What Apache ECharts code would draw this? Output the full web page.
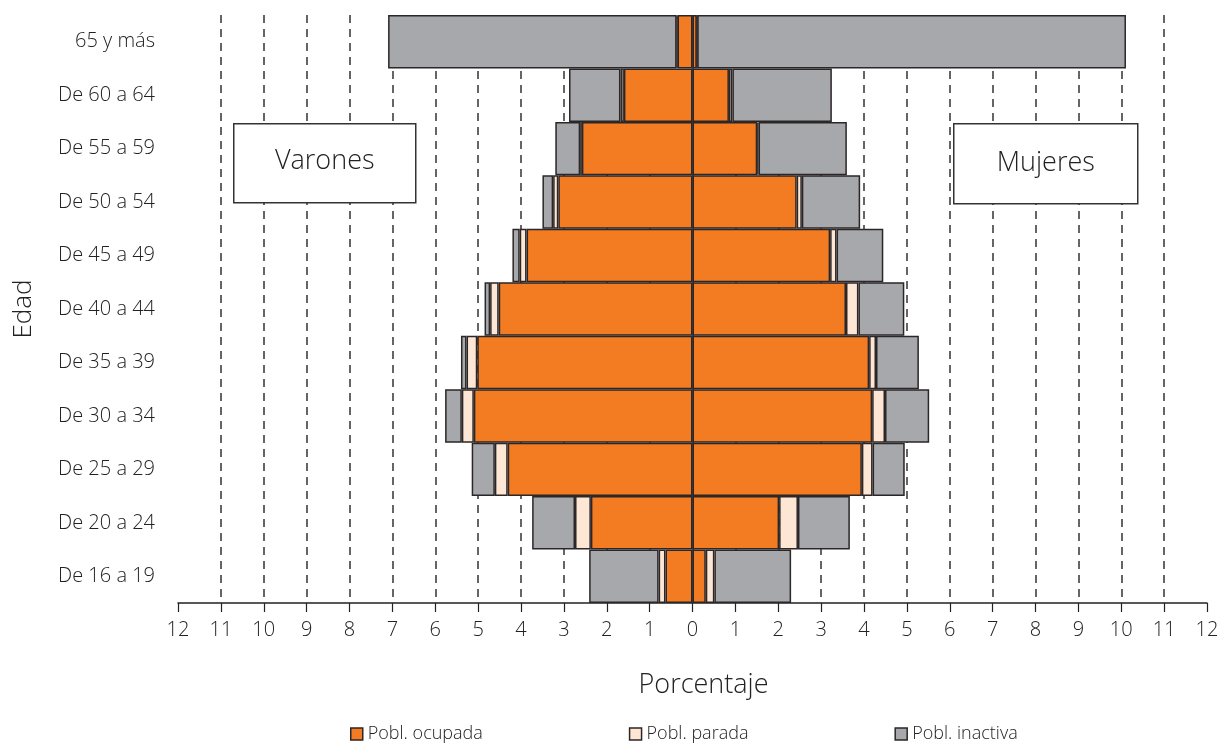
<!DOCTYPE html>
<html>
<head>
<meta charset="utf-8">
<script src="https://cdn.jsdelivr.net/npm/echarts@6/dist/echarts.min.js"></script>
<style>
html,body{margin:0;padding:0;background:#fff;}
#chart{width:1221px;height:743px;}
</style>
</head>
<body>
<div id="chart"></div>
<script>
// Categories (bottom to top)
const ageGroups = ['De 16 a 19','De 20 a 24','De 25 a 29','De 30 a 34','De 35 a 39','De 40 a 44','De 45 a 49','De 50 a 54','De 55 a 59','De 60 a 64','65 y más'];

// Varones (percent, shown on left)
const menOcupada  = [0.63, 2.37, 4.31, 5.10, 5.02, 4.52, 3.87, 3.13, 2.58, 1.60, 0.35];
const menParada   = [0.16, 0.37, 0.30, 0.28, 0.25, 0.20, 0.16, 0.12, 0.04, 0.08, 0.02];
const menInactiva = [1.62, 1.00, 0.54, 0.39, 0.13, 0.13, 0.17, 0.25, 0.58, 1.20, 6.73];

// Mujeres (percent, shown on right)
const womenOcupada  = [0.31, 2.02, 3.95, 4.19, 4.12, 3.58, 3.21, 2.43, 1.51, 0.85, 0.10];
const womenParada   = [0.20, 0.44, 0.25, 0.30, 0.16, 0.29, 0.15, 0.12, 0.03, 0.08, 0.01];
const womenInactiva = [1.79, 1.21, 0.75, 1.03, 1.00, 1.07, 1.09, 1.36, 2.06, 2.32, 10.00];

const xTicks = {min: -12, max: 12, interval: 1};
const legendNames = ['Pobl. ocupada', 'Pobl. parada', 'Pobl. inactiva'];

const colOcupada = '#f37b21';
const colParada = '#fee6d4';
const colInactiva = '#a7a8ab';
const borderCol = '#2b2627';
const font = "'Open Sans', 'Noto Sans', sans-serif";

// split line colours: hide at ±12 and 0 (centre line drawn separately)
const nTicks = (xTicks.max - xTicks.min) / xTicks.interval + 1;
const splitColors = [];
for (let i = 0; i < nTicks; i++) {
  const v = xTicks.min + i * xTicks.interval;
  splitColors.push((v === xTicks.min || v === xTicks.max || v === 0) ? 'rgba(0,0,0,0)' : '#333');
}

function neg(arr){ return arr.map(v => -v); }

function bar(name, stack, data, color, extra) {
  return Object.assign({
    name: name,
    type: 'bar',
    stack: stack,
    data: data,
    barCategoryGap: '0%',
    barGap: '-100%',
    itemStyle: {color: color, borderColor: borderCol, borderWidth: 1.5},
    emphasis: {disabled: true},
    animation: false
  }, extra || {});
}

const chart = echarts.init(document.getElementById('chart'), null, {renderer: 'canvas'});
chart.setOption({
  backgroundColor: '#fff',
  animation: false,
  grid: {left: 178, right: 14, top: 15, bottom: 140, containLabel: false, outerBoundsMode: 'none'},
  legend: {
    data: legendNames.map(n => ({name: n, itemStyle: {borderColor: borderCol, borderWidth: 1.5}})),
    left: 345, top: 720,
    itemWidth: 12, itemHeight: 12, itemGap: 146,
    icon: 'rect',
    textStyle: {fontFamily: font, fontSize: 18, color: '#222', fontWeight: 300},
    selectedMode: false
  },
  xAxis: {
    type: 'value',
    min: xTicks.min, max: xTicks.max, interval: xTicks.interval,
    name: 'Porcentaje', nameLocation: 'middle', nameGap: 69,
    nameTextStyle: {fontFamily: font, fontSize: 27, color: '#222', fontWeight: 300, padding: [0, 0, 0, 22]},
    axisLine: {show: true, lineStyle: {color: '#222', width: 1.5}},
    axisTick: {show: true, length: 9, lineStyle: {color: '#222', width: 1.2}},
    axisLabel: {
      formatter: v => String(Math.abs(v)),
      fontFamily: font, fontSize: 20, color: '#222', margin: 17, fontWeight: 300
    },
    splitLine: {show: true, lineStyle: {color: splitColors, type: [8, 6], width: 1.5}}
  },
  yAxis: {
    type: 'category',
    data: ageGroups,
    name: 'Edad', nameLocation: 'middle', nameGap: 141, nameRotate: 90,
    nameTextStyle: {fontFamily: font, fontSize: 26, color: '#222', fontWeight: 300},
    axisLine: {show: false},
    axisTick: {show: false},
    axisLabel: {fontFamily: font, fontSize: 20, color: '#222', margin: 23, fontWeight: 300}
  },
  series: [
    bar(legendNames[0], 'men', neg(menOcupada), colOcupada),
    bar(legendNames[1], 'men', neg(menParada), colParada),
    bar(legendNames[2], 'men', neg(menInactiva), colInactiva),
    bar(legendNames[0], 'women', womenOcupada, colOcupada),
    bar(legendNames[1], 'women', womenParada, colParada),
    bar(legendNames[2], 'women', womenInactiva, colInactiva, {
      markLine: {
        silent: true, symbol: 'none', animation: false,
        label: {show: false},
        lineStyle: {color: borderCol, type: 'solid', width: 1.5},
        data: [{xAxis: 0}]
      }
    })
  ],
  graphic: [
    {
      type: 'group', left: 233, top: 123, z: 100,
      children: [
        {type: 'rect', z: 100, shape: {x: 0, y: 0, width: 182, height: 79},
         style: {fill: '#fff', stroke: '#333', lineWidth: 1.5}},
        {type: 'text', z: 101, x: 91, y: 38,
         style: {text: 'Varones', fill: '#222', font: '300 27px ' + font, textAlign: 'center', textVerticalAlign: 'middle'}}
      ]
    },
    {
      type: 'group', left: 953, top: 123, z: 100,
      children: [
        {type: 'rect', z: 100, shape: {x: 0, y: 0, width: 184, height: 80},
         style: {fill: '#fff', stroke: '#333', lineWidth: 1.5}},
        {type: 'text', z: 101, x: 92, y: 40,
         style: {text: 'Mujeres', fill: '#222', font: '300 27px ' + font, textAlign: 'center', textVerticalAlign: 'middle'}}
      ]
    }
  ]
});
</script>
</body>
</html>
